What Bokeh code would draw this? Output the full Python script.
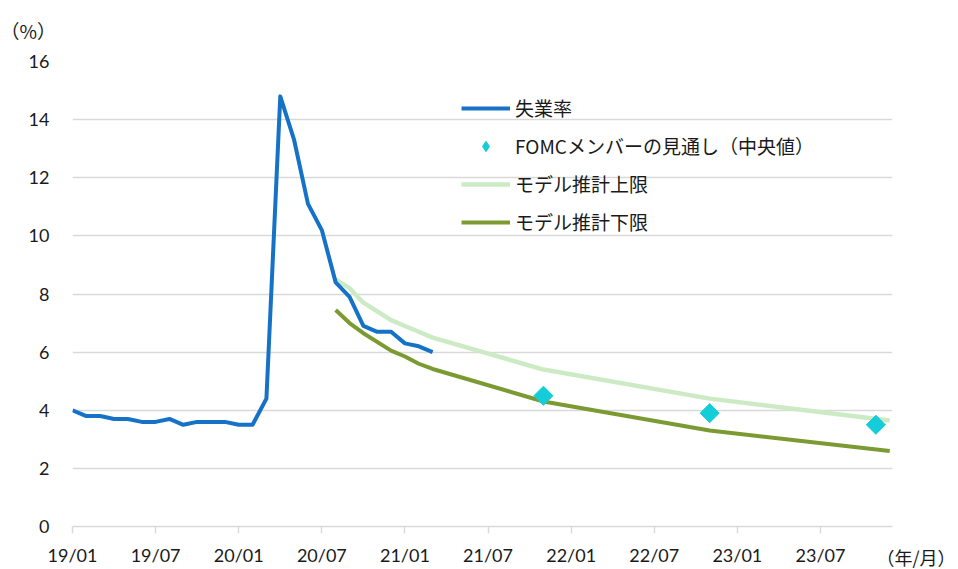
from bokeh.plotting import figure
from bokeh.models import (FixedTicker, Range1d, Legend, LegendItem, Title)
from bokeh.embed import file_html
from bokeh.resources import INLINE

# ---- data (month index: 0 = 2019/01) ----
unemp_month = list(range(27))
unemp_rate = [4.0, 3.8, 3.8, 3.7, 3.7, 3.6, 3.6, 3.7, 3.5, 3.6, 3.6, 3.6,
              3.5, 3.5, 4.4, 14.8, 13.3, 11.1, 10.2, 8.4, 7.9, 6.9, 6.7, 6.7,
              6.3, 6.2, 6.0]

fomc_month = [34, 46, 58]
fomc_value = [4.5, 3.9, 3.5]

model_month = [19, 20, 21, 23, 24, 25, 26, 34, 46, 59]
model_upper = [8.5, 8.2, 7.7, 7.1, 6.9, 6.7, 6.5, 5.4, 4.4, 3.65]
model_lower = [7.45, 7.0, 6.65, 6.05, 5.85, 5.6, 5.42, 4.3, 3.3, 2.6]

tick_months = [0, 6, 12, 18, 24, 30, 36, 42, 48, 54]
tick_labels = ["19/01", "19/07", "20/01", "20/07", "21/01", "21/07",
               "22/01", "22/07", "23/01", "23/07"]
y_ticks = [0, 2, 4, 6, 8, 10, 12, 14, 16]

series_names = ["失業率", "FOMCメンバーの見通し（中央値）", "モデル推計上限", "モデル推計下限"]
y_unit = "（%）"
x_unit = "（年/月）"

# ---- colours ----
C_BLUE = "#1672C6"
C_CYAN = "#14CDD8"
C_LIGHT = "#CCEBC5"
C_OLIVE = "#7C9A32"
C_GRID = "#D9D9D9"
TXT = "#1a1a1a"

LATIN = "Lato"
CJK = "Noto Sans CJK JP"

p = figure(width=958, height=569, output_backend="svg", toolbar_location=None,
           x_range=Range1d(0, 59.2), y_range=Range1d(0, 16),
           min_border_left=72, min_border_right=66,
           min_border_top=61, min_border_bottom=43)
p.outline_line_color = None
p.background_fill_color = "white"
p.border_fill_color = "white"

# grid
p.xgrid.grid_line_color = None
p.ygrid.grid_line_color = C_GRID
p.ygrid.grid_line_width = 1.4
p.ygrid.ticker = FixedTicker(ticks=y_ticks)

# y axis
p.yaxis.ticker = FixedTicker(ticks=y_ticks)
p.yaxis.axis_line_color = None
p.yaxis.major_tick_line_color = None
p.yaxis.minor_tick_line_color = None
p.yaxis.major_tick_out = 0
p.yaxis.major_tick_in = 0
p.yaxis.major_label_standoff = 23
p.yaxis.major_label_text_font = LATIN
p.yaxis.major_label_text_font_size = "18px"
p.yaxis.major_label_text_color = TXT

# x axis
p.xaxis.ticker = FixedTicker(ticks=tick_months)
p.xaxis.major_label_overrides = {m: l for m, l in zip(tick_months, tick_labels)}
p.xaxis.axis_line_color = C_GRID
p.xaxis.axis_line_width = 1.4
p.xaxis.major_tick_line_color = C_GRID
p.xaxis.major_tick_line_width = 1.4
p.xaxis.major_tick_out = 7
p.xaxis.major_tick_in = 0
p.xaxis.minor_tick_line_color = None
p.xaxis.major_label_standoff = 10
p.xaxis.major_label_text_font = LATIN
p.xaxis.major_label_text_font_size = "18px"
p.xaxis.major_label_text_color = TXT

# series
r_up = p.line(model_month, model_upper, line_color=C_LIGHT, line_width=4.5)
r_lo = p.line(model_month, model_lower, line_color=C_OLIVE, line_width=4)
r_un = p.line(unemp_month, unemp_rate, line_color=C_BLUE, line_width=4,
              line_join="round")
# diamond-shaped key for the legend (hidden beneath the larger markers)
r_fo_key = p.scatter(fomc_month, fomc_value, marker="diamond", size=11,
                     fill_color=C_CYAN, line_color=C_CYAN)
r_fo = p.scatter(fomc_month, fomc_value, marker="square", size=13.5,
                 angle=0.7853981634, fill_color=C_CYAN, line_color=C_CYAN)

legend = Legend(items=[
    LegendItem(label=series_names[0], renderers=[r_un]),
    LegendItem(label=series_names[1], renderers=[r_fo_key]),
    LegendItem(label=series_names[2], renderers=[r_up]),
    LegendItem(label=series_names[3], renderers=[r_lo]),
], location=(389, 291))
legend.glyph_width = 49
legend.glyph_height = 26
legend.label_height = 26
legend.spacing = 11
legend.label_standoff = 5
legend.padding = 0
legend.margin = 0
legend.border_line_color = None
legend.background_fill_alpha = 0
legend.label_text_font = CJK
legend.label_text_font_size = "19px"
legend.label_text_color = TXT
p.add_layout(legend)

# unit labels
p.add_layout(Title(text=y_unit, align="left", offset=-72, standoff=32,
                   vertical_align="top",
                   text_font=CJK, text_font_size="19px", text_font_style="normal",
                   text_color=TXT), "above")
p.add_layout(Title(text=x_unit, align="right", offset=-63, standoff=-50,
                   vertical_align="top",
                   text_font=CJK, text_font_size="18px", text_font_style="normal",
                   text_color=TXT), "below")

open("out.html", "w").write(file_html(p, INLINE))
